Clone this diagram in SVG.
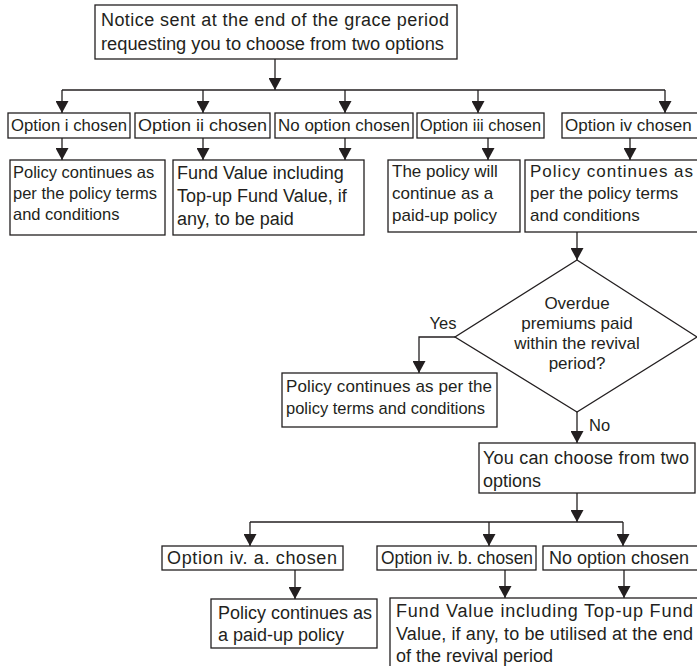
<svg xmlns="http://www.w3.org/2000/svg" width="697" height="666" viewBox="0 0 697 666">
<style>
.box{fill:#fff;stroke:#231f20;stroke-width:1.3}
.ln{fill:none;stroke:#231f20;stroke-width:1.3}
text{font-family:"Liberation Sans",Arial,sans-serif;fill:#231f20}
.t16{font-size:16.5px}
.t17{font-size:17px}
.t18{font-size:18px}
</style>
<defs>
<marker id="ah" markerUnits="userSpaceOnUse" markerWidth="13" markerHeight="13" refX="12" refY="6.5" orient="auto">
<path d="M0,0 L12,6.5 L0,13 z" fill="#231f20"/>
</marker>
</defs>
<rect width="697" height="666" fill="#fff"/>
<g id="connectors">
<path class="ln" d="M275,59 V90" marker-end="url(#ah)"/>
<path class="ln" d="M62,90 H665"/>
<path class="ln" d="M62,90 V113" marker-end="url(#ah)"/>
<path class="ln" d="M203,90 V113" marker-end="url(#ah)"/>
<path class="ln" d="M345,90 V113" marker-end="url(#ah)"/>
<path class="ln" d="M478,90 V113" marker-end="url(#ah)"/>
<path class="ln" d="M665,90 V113" marker-end="url(#ah)"/>
<path class="ln" d="M62,138 V160" marker-end="url(#ah)"/>
<path class="ln" d="M203,138 V160" marker-end="url(#ah)"/>
<path class="ln" d="M345,138 V160" marker-end="url(#ah)"/>
<path class="ln" d="M488,138 V160" marker-end="url(#ah)"/>
<path class="ln" d="M630,138 V160" marker-end="url(#ah)"/>
<path class="ln" d="M577,232 V260" marker-end="url(#ah)"/>
<path class="ln" d="M455,337 H419 V373" marker-end="url(#ah)"/>
<path class="ln" d="M577,412 V443" marker-end="url(#ah)"/>
<path class="ln" d="M577,493 V522" marker-end="url(#ah)"/>
<path class="ln" d="M250,522 H623"/>
<path class="ln" d="M250,522 V546" marker-end="url(#ah)"/>
<path class="ln" d="M489,522 V546" marker-end="url(#ah)"/>
<path class="ln" d="M623,522 V546" marker-end="url(#ah)"/>
<path class="ln" d="M295,570 V599" marker-end="url(#ah)"/>
<path class="ln" d="M505,570 V598" marker-end="url(#ah)"/>
<path class="ln" d="M624,570 V598" marker-end="url(#ah)"/>
<text class="t16" x="443" y="329" text-anchor="middle">Yes</text>
<text class="t16" x="589" y="431">No</text>
</g>
<g id="notice">
<rect class="box" x="95" y="5" width="362" height="54"/>
<text class="t18" x="101" y="26" textLength="348" lengthAdjust="spacing">Notice sent at the end of the grace period</text>
<text class="t18" x="101" y="50" textLength="343" lengthAdjust="spacingAndGlyphs">requesting you to choose from two options</text>
</g>
<g id="opt-i">
<rect class="box" x="8" y="113" width="122" height="25"/>
<text class="t17" x="11" y="131" textLength="116" lengthAdjust="spacingAndGlyphs">Option i chosen</text>
</g>
<g id="opt-ii">
<rect class="box" x="135" y="113" width="135" height="25"/>
<text class="t17" x="138" y="131" textLength="129" lengthAdjust="spacingAndGlyphs">Option ii chosen</text>
</g>
<g id="opt-none">
<rect class="box" x="275" y="113" width="138" height="25"/>
<text class="t17" x="278" y="131" textLength="132" lengthAdjust="spacingAndGlyphs">No option chosen</text>
</g>
<g id="opt-iii">
<rect class="box" x="417" y="113" width="127" height="25"/>
<text class="t17" x="420" y="131" textLength="121" lengthAdjust="spacingAndGlyphs">Option iii chosen</text>
</g>
<g id="opt-iv">
<rect class="box" x="562" y="113" width="140" height="25"/>
<text class="t17" x="565" y="131">Option iv chosen</text>
</g>
<g id="res-i">
<rect class="box" x="10" y="160" width="155" height="75"/>
<text class="t16" x="13" y="178">Policy continues as</text>
<text class="t16" x="13" y="199">per the policy terms</text>
<text class="t16" x="13" y="220">and conditions</text>
</g>
<g id="res-ii">
<rect class="box" x="173" y="160" width="191" height="75"/>
<text class="t18" x="177" y="179">Fund Value including</text>
<text class="t18" x="177" y="202">Top-up Fund Value, if</text>
<text class="t18" x="177" y="225">any, to be paid</text>
</g>
<g id="res-iii">
<rect class="box" x="388" y="160" width="132" height="72"/>
<text class="t17" x="392" y="177">The policy will</text>
<text class="t17" x="392" y="199">continue as a</text>
<text class="t17" x="392" y="221">paid-up policy</text>
</g>
<g id="res-iv">
<rect class="box" x="525" y="160" width="177" height="72"/>
<text class="t17" x="530" y="177" textLength="163" lengthAdjust="spacing">Policy continues as</text>
<text class="t17" x="530" y="199">per the policy terms</text>
<text class="t17" x="530" y="221">and conditions</text>
</g>
<g id="decision">
<polygon class="box" points="577,260 697,337 577,412 455,337"/>
<text class="t17" x="577" y="309" text-anchor="middle">Overdue</text>
<text class="t17" x="577" y="329" text-anchor="middle">premiums paid</text>
<text class="t17" x="577" y="349" text-anchor="middle">within the revival</text>
<text class="t17" x="577" y="369" text-anchor="middle">period?</text>
</g>
<g id="yes-result">
<rect class="box" x="282" y="373" width="215" height="54"/>
<text class="t17" x="286" y="392" textLength="206" lengthAdjust="spacing">Policy continues as per the</text>
<text class="t17" x="286" y="414" textLength="199" lengthAdjust="spacingAndGlyphs">policy terms and conditions</text>
</g>
<g id="two-options">
<rect class="box" x="479" y="443" width="216" height="50"/>
<text class="t18" x="483" y="464" textLength="206" lengthAdjust="spacing">You can choose from two</text>
<text class="t18" x="483" y="487">options</text>
</g>
<g id="opt-iva">
<rect class="box" x="162" y="546" width="181" height="24"/>
<text class="t18" x="167" y="564" textLength="170" lengthAdjust="spacing">Option iv. a. chosen</text>
</g>
<g id="opt-ivb">
<rect class="box" x="377" y="546" width="159" height="24"/>
<text class="t18" x="381" y="564" textLength="152" lengthAdjust="spacingAndGlyphs">Option iv. b. chosen</text>
</g>
<g id="opt-none-2">
<rect class="box" x="543" y="546" width="160" height="24"/>
<text class="t18" x="549" y="564">No option chosen</text>
</g>
<g id="res-iva">
<rect class="box" x="211" y="599" width="166" height="49"/>
<text class="t18" x="218" y="619">Policy continues as</text>
<text class="t18" x="218" y="641">a paid-up policy</text>
</g>
<g id="res-ivb">
<rect class="box" x="390" y="598" width="312" height="80"/>
<text class="t18" x="396" y="617" textLength="297" lengthAdjust="spacing">Fund Value including Top-up Fund</text>
<text class="t18" x="396" y="640" textLength="297" lengthAdjust="spacing">Value, if any, to be utilised at the end</text>
<text class="t18" x="396" y="662">of the revival period</text>
</g>
</svg>
